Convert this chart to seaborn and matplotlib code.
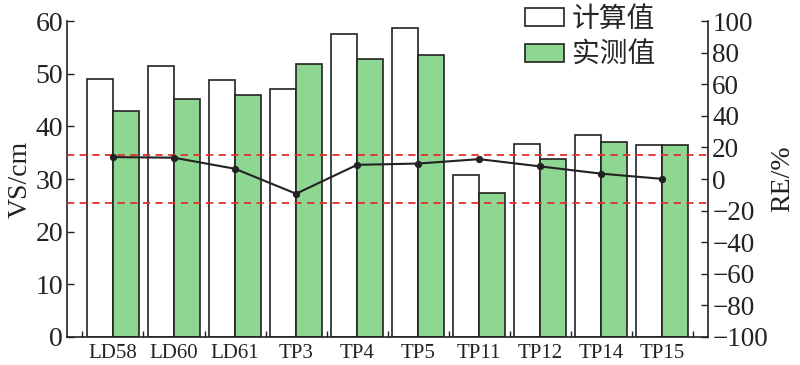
"""Bar chart of calculated vs measured VS with relative error line"""

import numpy as np
import pandas as pd
import matplotlib
matplotlib.use("Agg")
import matplotlib.pyplot as plt
import matplotlib.patches as mpatches
from matplotlib.ticker import FixedLocator
import seaborn as sns

sites = ["LD58", "LD60", "LD61", "TP3", "TP4", "TP5", "TP11", "TP12", "TP14", "TP15"]
calc_vs = [49.0, 51.4, 48.9, 47.1, 57.6, 58.7, 30.7, 36.6, 38.4, 36.4]
meas_vs = [43.0, 45.3, 45.9, 51.9, 52.9, 53.5, 27.4, 33.9, 37.1, 36.4]
re_pct = [13.9, 13.5, 6.5, -9.3, 9.0, 9.8, 12.6, 8.0, 3.4, 0.1]
re_limit = 15
series_names = ["计算值", "实测值"]

GREEN = "#8ED793"
EDGE = "#222222"

sns.set_theme(style="white")
plt.rcParams["font.family"] = ["Liberation Serif", "Noto Sans CJK SC"]
plt.rcParams["axes.unicode_minus"] = True

df = pd.DataFrame({
    "site": sites * 2,
    "type": [series_names[0]] * len(sites) + [series_names[1]] * len(sites),
    "vs": calc_vs + meas_vs,
})

fig = plt.figure(figsize=(8, 3.65), dpi=100)
ax = fig.add_axes([0.084, 0.077, 0.801, 0.865])

sns.barplot(
    data=df, x="site", y="vs", hue="type",
    palette=["white", GREEN], saturation=1,
    width=0.86, gap=0, edgecolor=EDGE, linewidth=1.2,
    legend=False, ax=ax,
)
ax.set_xlim(-0.75, len(sites) - 0.25)
ax.set_ylim(0, 60)
ax.set_yticks(np.arange(0, 61, 10))
ax.set_xlabel("")
ax.set_ylabel("VS/cm", fontsize=20, color=EDGE, labelpad=2)
ax.tick_params(axis="y", direction="in", length=5, width=1, labelsize=20, colors=EDGE, left=True, pad=3)
ax.tick_params(axis="x", which="major", length=0, labelsize=15, colors=EDGE, pad=5)
ax.xaxis.set_minor_locator(FixedLocator(np.arange(-0.5, len(sites), 1.0)))
ax.tick_params(axis="x", which="minor", direction="in", length=4, width=1, bottom=True, color=EDGE)
for side in ["left", "bottom"]:
    ax.spines[side].set_color(EDGE)
    ax.spines[side].set_linewidth(1.2)
ax.spines["top"].set_visible(False)
ax.spines["right"].set_visible(False)

ax2 = ax.twinx()
ax2.axhline(re_limit, color="#E0302E", lw=1.3, ls=(0, (4, 3)), zorder=1)
ax2.axhline(-re_limit, color="#E0302E", lw=1.3, ls=(0, (4, 3)), zorder=1)
sns.lineplot(
    x=np.arange(len(sites)), y=re_pct, ax=ax2,
    color=EDGE, lw=1.5, marker="o", markersize=4.5, markeredgecolor=EDGE,
)
ax2.set_ylim(-100, 100)
ax2.set_yticks(np.arange(-100, 101, 20))
ax2.set_ylabel("RE/%", fontsize=20, color=EDGE, labelpad=2)
ax2.tick_params(axis="y", direction="in", length=5, width=1, labelsize=19.5, colors=EDGE, right=True, pad=3)
ax2.spines["right"].set_color(EDGE)
ax2.spines["right"].set_linewidth(1.2)
ax2.spines["top"].set_visible(False)
ax2.spines["left"].set_visible(False)
ax2.spines["bottom"].set_visible(False)

handles = [
    mpatches.Patch(facecolor="white", edgecolor=EDGE, linewidth=1.2, label=series_names[0]),
    mpatches.Patch(facecolor=GREEN, edgecolor=EDGE, linewidth=1.2, label=series_names[1]),
]
ax2.legend(
    handles=handles, loc="upper left", bbox_to_anchor=(0.675, 1.135),
    frameon=False, handlelength=1.4, handleheight=0.65, handletextpad=0.3,
    labelspacing=0.23, prop={"family": "Noto Sans CJK SC", "size": 20},
)

fig.savefig("out.png", dpi=100)
plt.close(fig)
